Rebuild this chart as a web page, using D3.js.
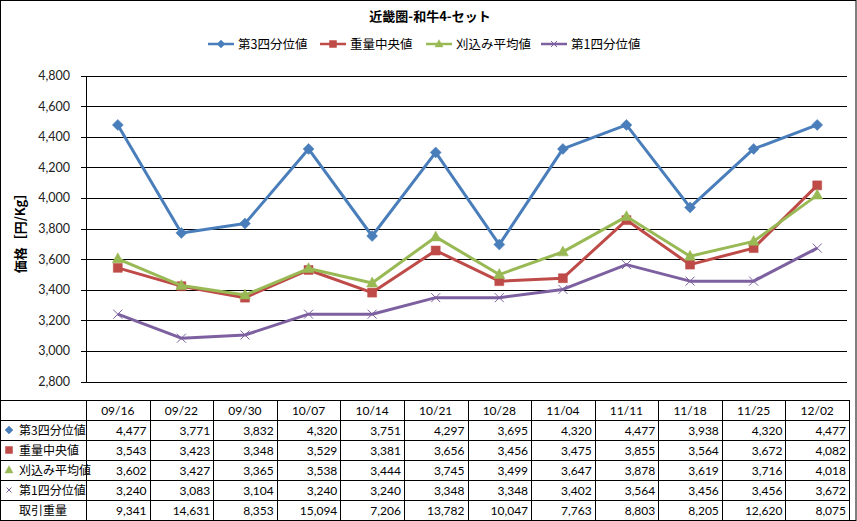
<!DOCTYPE html>
<html><head><meta charset="utf-8">
<script src="https://cdn.jsdelivr.net/npm/d3@7"></script>
<style>
html,body{margin:0;padding:0;background:#fff;}
svg{display:block;font-family:"Lato","Noto Sans CJK JP",sans-serif;}
</style></head>
<body>
<svg id="c" width="857" height="521"></svg>
<script>
const title = "近畿圏-和牛4-セット";
const yAxisTitle = "価格［円/Kg］";
const categories = ["09/16","09/22","09/30","10/07","10/14","10/21","10/28","11/04","11/11","11/18","11/25","12/02"];
const seriesNames = ["第3四分位値","重量中央値","刈込み平均値","第1四分位値"];
const q3 = [4477,3771,3832,4320,3751,4297,3695,4320,4477,3938,4320,4477];
const median = [3543,3423,3348,3529,3381,3656,3456,3475,3855,3564,3672,4082];
const trimmedMean = [3602,3427,3365,3538,3444,3745,3499,3647,3878,3619,3716,4018];
const q1 = [3240,3083,3104,3240,3240,3348,3348,3402,3564,3456,3456,3672];
const volumeLabel = "取引重量";
const volume = [9341,14631,8353,15094,7206,13782,10047,7763,8803,8205,12620,8075];
const yTicks = [2800,3000,3200,3400,3600,3800,4000,4200,4400,4600,4800];

const colors = ["#4A7EBB","#BE4B48","#98B954","#7D60A0"];
const symbols = ["diamond","square","triangle","cross"];
const seriesData = [q3, median, trimmedMean, q1];

const svg = d3.select("#c");
const W = 857, H = 521;
const plotL = 86, plotR = 847, tableR = 849, plotT = 75.5, plotB = 381.5;

const x = d3.scaleBand().domain(categories).range([plotL, tableR]);
const y = d3.scaleLinear().domain([2800,4800]).range([plotB, plotT]);
const fmt = d3.format(",");

// outer border
svg.append("rect").attr("x",0.5).attr("y",0.5).attr("width",W-1.5).attr("height",H-1)
  .attr("fill","none").attr("stroke","#000").attr("stroke-width",1);

// title
svg.append("text").attr("x",430).attr("y",21).attr("text-anchor","middle")
  .attr("font-size",13).attr("font-weight","bold").attr("fill","#000")
  .attr("font-family","Noto Sans CJK JP,sans-serif").text(title);

// gridlines
const gAxis = svg.append("g").attr("transform",`translate(${plotL},0)`)
  .call(d3.axisLeft(y).tickValues(yTicks).tickFormat(fmt).tickSize(-(plotR-plotL)).tickSizeOuter(0).tickPadding(16));
gAxis.select(".domain").remove();
gAxis.selectAll(".tick line").attr("stroke","#000").attr("shape-rendering","crispEdges");
gAxis.selectAll(".tick text").attr("font-size",12.5).attr("fill","#222").attr("font-family","Lato,sans-serif");
// small outer ticks
const gT = svg.append("g").attr("transform",`translate(${plotL},0)`)
  .call(d3.axisLeft(y).tickValues(yTicks).tickFormat("").tickSize(5).tickSizeOuter(0));
gT.selectAll("line,path").attr("stroke","#000").attr("shape-rendering","crispEdges");

// y axis title
svg.append("text").attr("transform","translate(25,230) rotate(-90)").attr("text-anchor","middle")
  .attr("font-size",13).attr("font-weight","bold").attr("fill","#000")
  .attr("font-family","Noto Sans CJK JP,sans-serif").text(yAxisTitle);

// lines
const line = d3.line().x((d,i)=>x(categories[i])+x.bandwidth()/2).y(d=>y(d));
function markerPath(sym, size){
  const s=size/2;
  if (sym==="cross") return `M${-s},${-s}L${s},${s}M${-s},${s}L${s},${-s}`;
  if (sym==="diamond") return `M0,${-s}L${s},0L0,${s}L${-s},0Z`;
  if (sym==="square") return `M${-s},${-s}H${s}V${s}H${-s}Z`;
  const h = size*0.9;
  return `M0,${-h*0.6}L${s},${h*0.4}L${-s},${h*0.4}Z`;
}
seriesData.forEach((data,k)=>{
  svg.append("path").datum(data).attr("d",line).attr("fill","none")
    .attr("stroke",colors[k]).attr("stroke-width",3).attr("stroke-linejoin","round");
  const sz = [11,9,11,9][k];
  svg.append("g").selectAll("path").data(data).join("path")
    .attr("transform",(d,i)=>`translate(${x(categories[i])+x.bandwidth()/2},${y(d)})`)
    .attr("d",markerPath(symbols[k],sz))
    .attr("fill",k===3?"none":colors[k]).attr("stroke",colors[k]).attr("stroke-width",k===3?1:0.5);
});

// legend
const legendX = [208,320,426,541];
seriesNames.forEach((n,k)=>{
  const g = svg.append("g").attr("transform",`translate(${legendX[k]},44)`);
  g.append("line").attr("x1",0).attr("x2",26).attr("stroke",colors[k]).attr("stroke-width",2.5);
  g.append("path").attr("transform","translate(13,0)").attr("d",markerPath(symbols[k],[8,7,8,6][k]))
    .attr("fill",k===3?"none":colors[k]).attr("stroke",colors[k]).attr("stroke-width",k===3?1:0.5);
  g.append("text").attr("x",30).attr("y",4.5).attr("font-size",12.5).attr("fill","#000")
    .attr("font-family","Noto Sans CJK JP,sans-serif").text(n);
});

// table
const tTop = 400, rowH = 20;
const tbl = svg.append("g").attr("shape-rendering","crispEdges");
for (let r=0;r<=6;r++){
  tbl.append("line").attr("x1",0).attr("x2",tableR).attr("y1",tTop+r*rowH+0.5).attr("y2",tTop+r*rowH+0.5).attr("stroke","#000");
}
const colEdges = [0, ...categories.map(c=>x(c)), tableR];
colEdges.forEach(cx=>{
  tbl.append("line").attr("x1",Math.round(cx)+0.5).attr("x2",Math.round(cx)+0.5).attr("y1",tTop).attr("y2",tTop+6*rowH).attr("stroke","#000");
});
// header
categories.forEach(c=>{
  svg.append("text").attr("x",x(c)+x.bandwidth()/2).attr("y",tTop+14.5).attr("text-anchor","middle")
    .attr("font-size",12).attr("fill","#000").text(c);
});
const rows = [...seriesData, volume];
const rowNames = [...seriesNames, volumeLabel];
rows.forEach((data,r)=>{
  const cy = tTop + (r+1)*rowH;
  if (r<4){
    svg.append("path").attr("transform",`translate(9,${cy+10})`).attr("d",markerPath(symbols[r],[8,7,8,5][r]))
      .attr("fill",r===3?"none":colors[r]).attr("stroke",colors[r]).attr("stroke-width",r===3?1:0.5);
  }
  svg.append("text").attr("x",19).attr("y",cy+14.5).attr("font-size",12).attr("fill","#000")
    .attr("font-family","Noto Sans CJK JP,sans-serif").text(rowNames[r]);
  data.forEach((v,i)=>{
    svg.append("text").attr("x",x(categories[i])+x.bandwidth()-3).attr("y",cy+14.5).attr("text-anchor","end")
      .attr("font-size",12).attr("fill","#000").text(fmt(v));
  });
});
</script>
</body></html>
